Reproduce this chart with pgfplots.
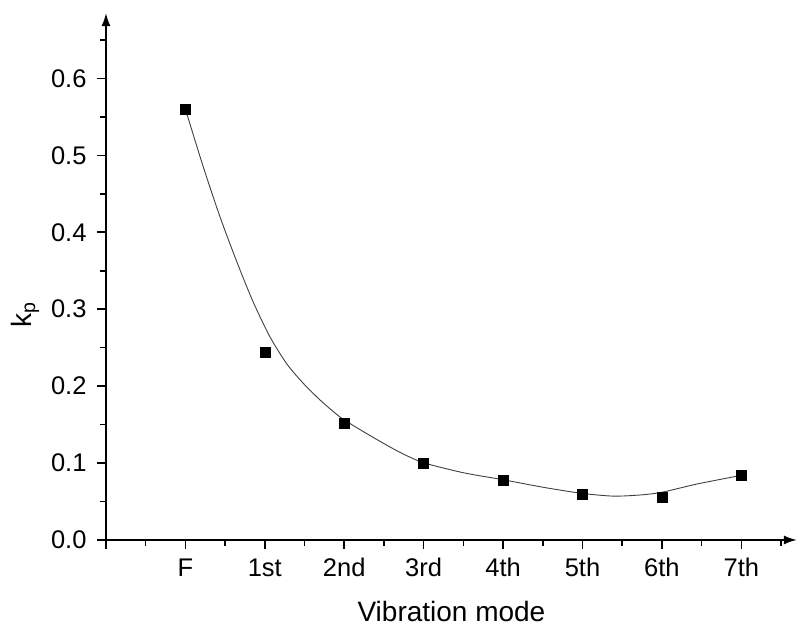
\documentclass[border=0pt]{standalone}
\usepackage{pgfplots}
\pgfplotsset{compat=1.18}
\usetikzlibrary{arrows.meta}
\usepackage{fontspec}
\setmainfont{Liberation Sans}
\begin{document}
\begin{tikzpicture}
\begin{axis}[
  scale only axis,
  width=691bp, height=527bp,
  xmin=0, xmax=8.7,
  ymin=0, ymax=0.685,
  axis lines=left,
  axis line style={line width=1.8bp, -{Latex[length=13bp,width=9bp]}},
  tick align=outside,
  major tick length=9bp,
  minor tick length=6bp,
  every tick/.style={line width=1.6bp, black},
  xtick={0,1,2,3,4,5,6,7,8},
  xticklabels={,F,1st,2nd,3rd,4th,5th,6th,7th},
  minor xtick={0.5,1.5,...,8.5},
  ytick={0,0.1,...,0.61},
  minor ytick={0.05,0.15,...,0.66},
  ticklabel style={font=\fontsize{25.5bp}{29bp}\selectfont},
  xticklabel style={anchor=base, yshift=-28bp},
  yticklabel style={xshift=-7bp, /pgf/number format/.cd, fixed, fixed zerofill, precision=1, assume math mode=true},
  label style={font=\fontsize{28bp}{32bp}\selectfont},
  xlabel={Vibration mode},
  xlabel style={at={(axis description cs:0.5,-0.135)}, anchor=center, inner sep=1bp},
  ylabel={k\textsubscript{p}},
  ylabel style={at={(axis description cs:-0.117,0.428)}, anchor=center},
  clip=false
]
% fitted curve
\addplot[smooth, tension=0.45, line width=0.9bp, black!75, no marks] coordinates {
 (1,0.56) (1.225,0.485) (1.436,0.42) (1.646,0.362) (1.855,0.309)
 (2.065,0.264) (2.276,0.229) (2.485,0.2035) (2.695,0.182) (2.85,0.168)
 (3.0,0.156) (3.37,0.133) (3.7,0.114) (4.0,0.1004) (4.5,0.0874) (4.99,0.0785)
 (5.51,0.0684) (6.0,0.0605) (6.39,0.057) (6.73,0.0585) (7.0,0.062)
 (7.44,0.0727) (8.0,0.084)
};
% measured points
\addplot[only marks, mark=square*, mark size=5bp, black] coordinates {
 (1,0.56) (2,0.244) (3,0.1515) (4,0.0996) (5,0.078) (6,0.0589) (7,0.0558) (8,0.084)
};
% page extent of the reference
\path (axis description cs:-0.1534,-0.165) rectangle (axis description cs:1.003,1.0247);
\end{axis}
\end{tikzpicture}
\end{document}
